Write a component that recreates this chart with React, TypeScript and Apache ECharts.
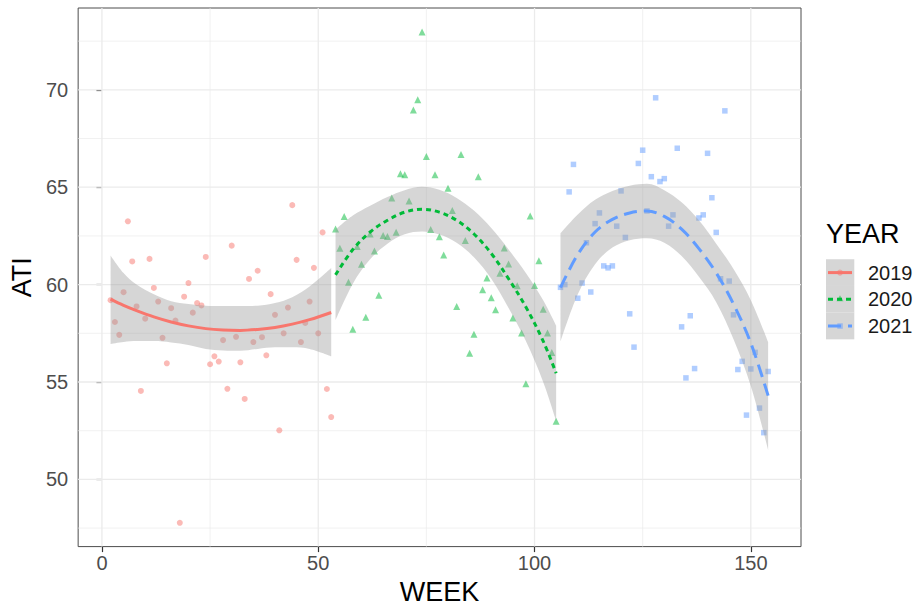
import React, { useEffect, useRef } from "react";
import * as echarts from "echarts";

// ---- data: weekly ATI observations ----
const weeks2019 = [2, 3, 4, 5, 6, 7, 8, 9, 10, 11, 12, 13, 14, 15, 16, 17, 18, 19, 20, 21, 22, 23, 24, 25, 26, 27, 28, 29, 30, 31, 32, 33, 34, 35, 36, 37, 38, 39, 40, 41, 42, 43, 44, 45, 46, 47, 48, 49, 50, 51, 52, 53];
const ati2019 = [59.2, 58.08, 57.42, 59.61, 63.25, 61.19, 58.88, 54.54, 58.25, 61.32, 59.83, 59.13, 57.27, 55.96, 58.79, 58.15, 47.77, 59.38, 60.08, 58.56, 59.05, 58.93, 61.42, 55.91, 56.32, 56.05, 57.15, 54.65, 62.0, 57.32, 56.01, 54.13, 60.29, 57.05, 60.71, 57.3, 56.37, 59.51, 58.45, 52.52, 57.5, 58.82, 64.08, 61.27, 57.05, 58.03, 59.13, 60.86, 57.5, 62.68, 54.64, 53.2];

const weeks2020 = [54, 55, 56, 57, 58, 59, 60, 61, 62, 63, 64, 65, 66, 67, 68, 69, 70, 71, 72, 73, 74, 75, 76, 77, 78, 79, 80, 81, 82, 83, 84, 85, 86, 87, 88, 89, 90, 91, 92, 93, 94, 95, 96, 97, 98, 99, 100, 101, 102, 103, 104, 105];
const ati2020 = [62.86, 61.86, 63.5, 60.12, 57.71, 61.95, 61.05, 58.33, 62.6, 61.72, 59.45, 62.52, 62.47, 64.44, 62.69, 65.69, 65.64, 64.29, 68.97, 69.49, 72.97, 66.58, 62.83, 65.64, 62.46, 61.52, 64.95, 63.81, 58.88, 66.68, 62.27, 56.47, 57.45, 65.54, 59.74, 60.34, 59.33, 58.71, 60.58, 61.88, 61.06, 58.29, 59.94, 57.52, 54.91, 63.52, 59.96, 61.22, 58.74, 57.52, 56.52, 52.98];

const weeks2021 = [106, 107, 108, 109, 110, 111, 112, 113, 114, 115, 116, 117, 118, 119, 120, 121, 122, 123, 124, 125, 126, 127, 128, 129, 130, 131, 132, 133, 134, 135, 136, 137, 138, 139, 140, 141, 142, 143, 144, 145, 146, 147, 148, 149, 150, 151, 152, 153, 154];
const ati2021 = [59.86, 60.0, 64.76, 66.17, 59.3, 60.08, 62.15, 59.62, 63.13, 63.68, 60.96, 60.86, 60.96, 63.0, 64.81, 62.42, 58.5, 56.79, 66.22, 66.9, 63.78, 65.54, 69.59, 65.29, 65.44, 63.0, 63.58, 67.0, 57.83, 55.21, 58.4, 55.69, 63.42, 63.58, 66.74, 64.46, 62.68, 60.3, 68.92, 60.18, 58.45, 55.64, 56.06, 53.3, 55.67, 56.52, 53.66, 52.4, 55.54];

// ---- smoothed fit and confidence band ----
const fitX2019 = [2, 5, 8, 12, 16, 20, 24, 28, 32, 36, 40, 44, 48, 53];
const fitY2019 = [59.25, 58.93, 58.66, 58.34, 58.08, 57.88, 57.74, 57.67, 57.65, 57.7, 57.8, 57.97, 58.2, 58.57];
const bandHi2019 = [61.5, 60.6, 60.0, 59.5, 59.15, 59.0, 58.92, 58.9, 58.9, 58.92, 59.05, 59.35, 59.9, 60.85];
const bandLo2019 = [56.95, 57.05, 57.1, 57.1, 57.03, 56.9, 56.7, 56.62, 56.6, 56.7, 56.78, 56.78, 56.7, 56.32];

const fitX2020 = [54, 58, 62, 66, 70, 74, 78, 82, 86, 90, 94, 98, 102, 105];
const fitY2020 = [60.5, 61.8, 62.7, 63.3, 63.72, 63.87, 63.72, 63.3, 62.6, 61.6, 60.3, 58.85, 57.1, 55.45];
const bandHi2020 = [62.83, 63.55, 64.05, 64.5, 64.85, 65.02, 64.87, 64.45, 63.8, 62.9, 61.8, 60.6, 59.2, 57.9];
const bandLo2020 = [58.17, 60.05, 61.3, 62.1, 62.58, 62.72, 62.57, 62.15, 61.4, 60.3, 58.8, 57.1, 55.0, 53.0];

const fitX2021 = [106, 110, 114, 118, 122, 126, 130, 134, 138, 142, 146, 150, 154];
const fitY2021 = [59.85, 61.55, 62.7, 63.35, 63.68, 63.78, 63.5, 62.85, 61.85, 60.6, 59.0, 57.0, 54.3];
const bandHi2021 = [62.63, 63.6, 64.35, 64.8, 65.08, 65.18, 64.85, 64.23, 63.3, 62.1, 60.8, 59.2, 57.05];
const bandLo2021 = [57.07, 59.5, 61.05, 61.9, 62.28, 62.38, 62.15, 61.47, 60.4, 59.1, 57.2, 54.8, 51.5];

// ---- axes ----
const xTicks = [0, 50, 100, 150];
const xMinor = [25, 75, 125];
const yTicks = [50, 55, 60, 65, 70];
const yMinor = [47.5, 52.5, 57.5, 62.5, 67.5, 72.5];
const years = ["2019", "2020", "2021"];
const colors = ["#F8766D", "#00BA38", "#619CFF"];

const FONT = "Liberation Sans, Arial, sans-serif";
const BAND = "rgba(153,153,153,0.4)";

const zip = (a: number[], b: number[]) => a.map((v, i) => [v, b[i]]);

function gridSeries(values: number[], vertical: boolean, width: number) {
  return {
    type: "custom",
    silent: true,
    z: 1,
    data: values.map((v) => (vertical ? [v, 60] : [0, v])),
    encode: { x: 0, y: 1 },
    renderItem: (params: any, api: any) => {
      const cs = params.coordSys;
      const p = api.coord([api.value(0), api.value(1)]);
      const shape = vertical
        ? { x1: p[0], y1: cs.y, x2: p[0], y2: cs.y + cs.height }
        : { x1: cs.x, y1: p[1], x2: cs.x + cs.width, y2: p[1] };
      return { type: "line", shape, style: { stroke: "#EBEBEB", lineWidth: width } };
    },
  };
}

function yearSeries(
  name: string,
  color: string,
  weeks: number[],
  ati: number[],
  fx: number[],
  fy: number[],
  hi: number[],
  lo: number[],
  symbol: string,
  symbolSize: number,
  dash: any
) {
  // band: lower edge + stacked width; value column first so that the stack applies to y
  return [
    {
      type: "scatter",
      name,
      data: zip(weeks, ati),
      symbol,
      symbolSize,
      itemStyle: { color, opacity: 0.5 },
      z: 2,
      silent: true,
    },
    {
      type: "line",
      stack: "band" + name,
      data: fx.map((x, i) => [lo[i], x]),
      encode: { x: 1, y: 0 },
      symbol: "none",
      smooth: 0.35,
      lineStyle: { opacity: 0 },
      z: 3,
      silent: true,
    },
    {
      type: "line",
      stack: "band" + name,
      data: fx.map((x, i) => [hi[i] - lo[i], x]),
      encode: { x: 1, y: 0 },
      symbol: "none",
      smooth: 0.35,
      lineStyle: { opacity: 0 },
      areaStyle: { color: BAND, opacity: 1 },
      z: 3,
      silent: true,
    },
    {
      type: "line",
      name,
      data: zip(fx, fy),
      symbol: "none",
      smooth: 0.35,
      lineStyle: { color, width: 3, type: dash, cap: "butt" },
      z: 4,
      silent: true,
    },
  ];
}

function legendGraphic() {
  const rows = [272.6, 299.3, 326];
  const dashes: any[] = [null, [5, 4], [13, 7]];
  const els: any[] = [
    {
      type: "text",
      x: 826,
      y: 234,
      style: { text: "YEAR", fontSize: 27, fontFamily: FONT, fill: "#000", verticalAlign: "middle", align: "left" },
    },
  ];
  rows.forEach((cy, i) => {
    els.push({ type: "rect", shape: { x: 826, y: cy - 13.35, width: 28.3, height: 26.7 }, style: { fill: "#D6D6D6" } });
    const c = colors[i];
    if (i === 0) els.push({ type: "circle", shape: { cx: 840, cy, r: 3 }, style: { fill: c, opacity: 0.5 } });
    if (i === 1)
      els.push({ type: "polygon", shape: { points: [[840, cy - 4], [843.5, cy + 2], [836.5, cy + 2]] }, style: { fill: c, opacity: 0.5 } });
    if (i === 2) els.push({ type: "rect", shape: { x: 837.3, y: cy - 2.7, width: 5.5, height: 5.5 }, style: { fill: c, opacity: 0.5 } });
    els.push({
      type: "line",
      shape: { x1: 828, y1: cy, x2: 852, y2: cy },
      style: { stroke: c, lineWidth: 3, lineDash: dashes[i] || undefined },
    });
    els.push({
      type: "text",
      x: 868,
      y: cy,
      style: { text: years[i], fontSize: 20, fontFamily: FONT, fill: "#1A1A1A", verticalAlign: "middle", align: "left" },
    });
  });
  return els;
}

export default function App() {
  const ref = useRef<HTMLDivElement>(null);
  useEffect(() => {
    if (!ref.current) return;
    const chart = echarts.init(ref.current, undefined, { renderer: "svg" });
    const option: any = {
      animation: false,
      backgroundColor: "#FFFFFF",
      grid: {
        left: 78,
        top: 8,
        width: 723,
        height: 543,
        show: true,
        borderColor: "#4D4D4D",
        borderWidth: 1,
        backgroundColor: "transparent",
        containLabel: false,
      },
      xAxis: {
        type: "value",
        min: -5.5,
        max: 161.6,
        axisLine: { show: false },
        splitLine: { show: false },
        axisTick: { show: true, customValues: xTicks, length: 5.5, lineStyle: { color: "#333333", width: 1.2 } },
        axisLabel: { customValues: xTicks, color: "#4D4D4D", fontSize: 20, fontFamily: FONT, margin: 6.5 },
        name: "WEEK",
        nameLocation: "middle",
        nameGap: 29,
        nameTextStyle: { fontSize: 27, color: "#000", fontFamily: FONT },
      },
      yAxis: {
        type: "value",
        min: 46.55,
        max: 74.2,
        axisLine: { show: false },
        splitLine: { show: false },
        axisTick: { show: true, customValues: yTicks, length: 5.5, lineStyle: { color: "#333333", width: 1.2 } },
        axisLabel: { customValues: yTicks, color: "#4D4D4D", fontSize: 20, fontFamily: FONT, margin: 10 },
        name: "ATI",
        nameLocation: "middle",
        nameGap: 38,
        nameTextStyle: { fontSize: 27, color: "#000", fontFamily: FONT },
      },
      series: [
        gridSeries(xMinor, true, 0.7),
        gridSeries(yMinor, false, 0.7),
        gridSeries(xTicks, true, 1.3),
        gridSeries(yTicks, false, 1.3),
        ...yearSeries("2019", colors[0], weeks2019, ati2019, fitX2019, fitY2019, bandHi2019, bandLo2019, "circle", 6, "solid"),
        ...yearSeries("2020", colors[1], weeks2020, ati2020, fitX2020, fitY2020, bandHi2020, bandLo2020, "triangle", 7, [5, 4]),
        ...yearSeries("2021", colors[2], weeks2021, ati2021, fitX2021, fitY2021, bandHi2021, bandLo2021, "rect", 5.5, [13, 7]),
      ],
      graphic: legendGraphic(),
    };
    chart.setOption(option);
    return () => chart.dispose();
  }, []);
  return <div ref={ref} style={{ position: "absolute", left: 0, top: 0, width: 920, height: 610 }} />;
}
